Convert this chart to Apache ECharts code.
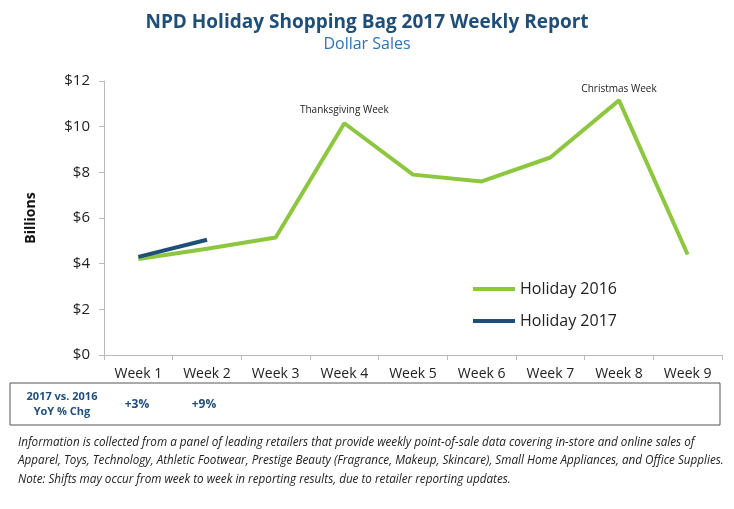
<!DOCTYPE html><html><head><meta charset="utf-8"><script src="https://cdn.jsdelivr.net/npm/echarts@6/dist/echarts.min.js"></script>
<style>body{margin:0}#c{width:734px;height:509px}</style></head><body><div id="c"></div><script>
const categories=['Week 1','Week 2','Week 3','Week 4','Week 5','Week 6','Week 7','Week 8','Week 9'];
const holiday2016=[4.2,4.65,5.15,10.15,7.9,7.6,8.65,11.15,4.4];
const holiday2017=[4.3,5.05];
const yoy=['+3%','+9%'];
const yTicks=[0,2,4,6,8,10,12];
const navy='#1f4e79',green='#8dc63f';
const c=echarts.init(document.getElementById('c'));
c.setOption({
 title:{text:'NPD Holiday Shopping Bag 2017 Weekly Report',subtext:'Dollar Sales',left:'center',top:8,itemGap:4,
  textStyle:{fontFamily:'Open Sans',fontSize:19,fontWeight:'bold',color:navy},
  subtextStyle:{fontFamily:'Open Sans',fontSize:16,color:'#2e74b5'}},
 grid:{left:104,right:12,top:81,bottom:154},
 legend:{orient:'vertical',left:468,top:276,itemWidth:42,itemHeight:4,itemGap:16,icon:'rect',
  textStyle:{fontFamily:'Open Sans',fontSize:16,color:'#222'},data:['Holiday 2016','Holiday 2017']},
 xAxis:{type:'category',data:categories,boundaryGap:true,axisLine:{lineStyle:{color:'#bbb'}},axisTick:{show:true,lineStyle:{color:'#bbb'}},
  axisLabel:{fontFamily:'Open Sans',fontSize:14,color:'#222',margin:12}},
 yAxis:{type:'value',min:0,max:12,interval:2,name:'Billions',nameLocation:'middle',nameGap:66,
  nameTextStyle:{fontFamily:'Open Sans',fontSize:14,fontWeight:'bold',color:'#111'},
  axisLine:{show:true,lineStyle:{color:'#bbb'}},axisTick:{show:true,lineStyle:{color:'#bbb'}},splitLine:{show:false},
  axisLabel:{fontFamily:'Open Sans',fontSize:15,color:'#222',margin:14,formatter:v=>yTicks.includes(v)?'$'+v:''}},
 series:[
  {name:'Holiday 2016',type:'line',data:holiday2016,symbol:'none',lineStyle:{width:4,color:green},itemStyle:{color:green},
   markPoint:{symbol:'circle',symbolSize:0,data:[
    {coord:[3,holiday2016[3]],label:{show:true,formatter:'Thanksgiving Week',position:'top',distance:8,fontSize:10,fontFamily:'Open Sans',color:'#222'}},
    {coord:[7,holiday2016[7]],label:{show:true,formatter:'Christmas Week',position:'top',distance:6,fontSize:10,fontFamily:'Open Sans',color:'#222'}}]}},
  {name:'Holiday 2017',type:'line',data:holiday2017,symbol:'none',lineStyle:{width:4,color:navy},itemStyle:{color:navy}}
 ],
 graphic:[
  {type:'rect',shape:{x:10,y:383,width:710,height:42},style:{fill:'none',stroke:'#555',lineWidth:1}},
  {type:'text',x:62,y:397,style:{text:'2017 vs. 2016',textAlign:'center',textVerticalAlign:'middle',font:'bold 11px "Open Sans"',fill:navy}},
  {type:'text',x:62,y:412,style:{text:'YoY % Chg',textAlign:'center',textVerticalAlign:'middle',font:'bold 11px "Open Sans"',fill:navy}},
  {type:'text',x:137,y:405,style:{text:yoy[0],textAlign:'center',textVerticalAlign:'middle',font:'bold 12px "Open Sans"',fill:navy}},
  {type:'text',x:204,y:405,style:{text:yoy[1],textAlign:'center',textVerticalAlign:'middle',font:'bold 12px "Open Sans"',fill:navy}},
  {type:'text',x:18,y:437,style:{text:'Information is collected from a panel of leading retailers that provide weekly point-of-sale data covering in-store and online sales of',font:'italic 11.7px "Open Sans"',fill:'#222'}},
  {type:'text',x:18,y:455,style:{text:'Apparel, Toys, Technology, Athletic Footwear, Prestige Beauty (Fragrance, Makeup, Skincare), Small Home Appliances, and Office Supplies.',font:'italic 11.7px "Open Sans"',fill:'#222'}},
  {type:'text',x:18,y:474,style:{text:'Note: Shifts may occur from week to week in reporting results, due to retailer reporting updates.',font:'italic 11.7px "Open Sans"',fill:'#222'}}
 ]
});
</script></body></html>
